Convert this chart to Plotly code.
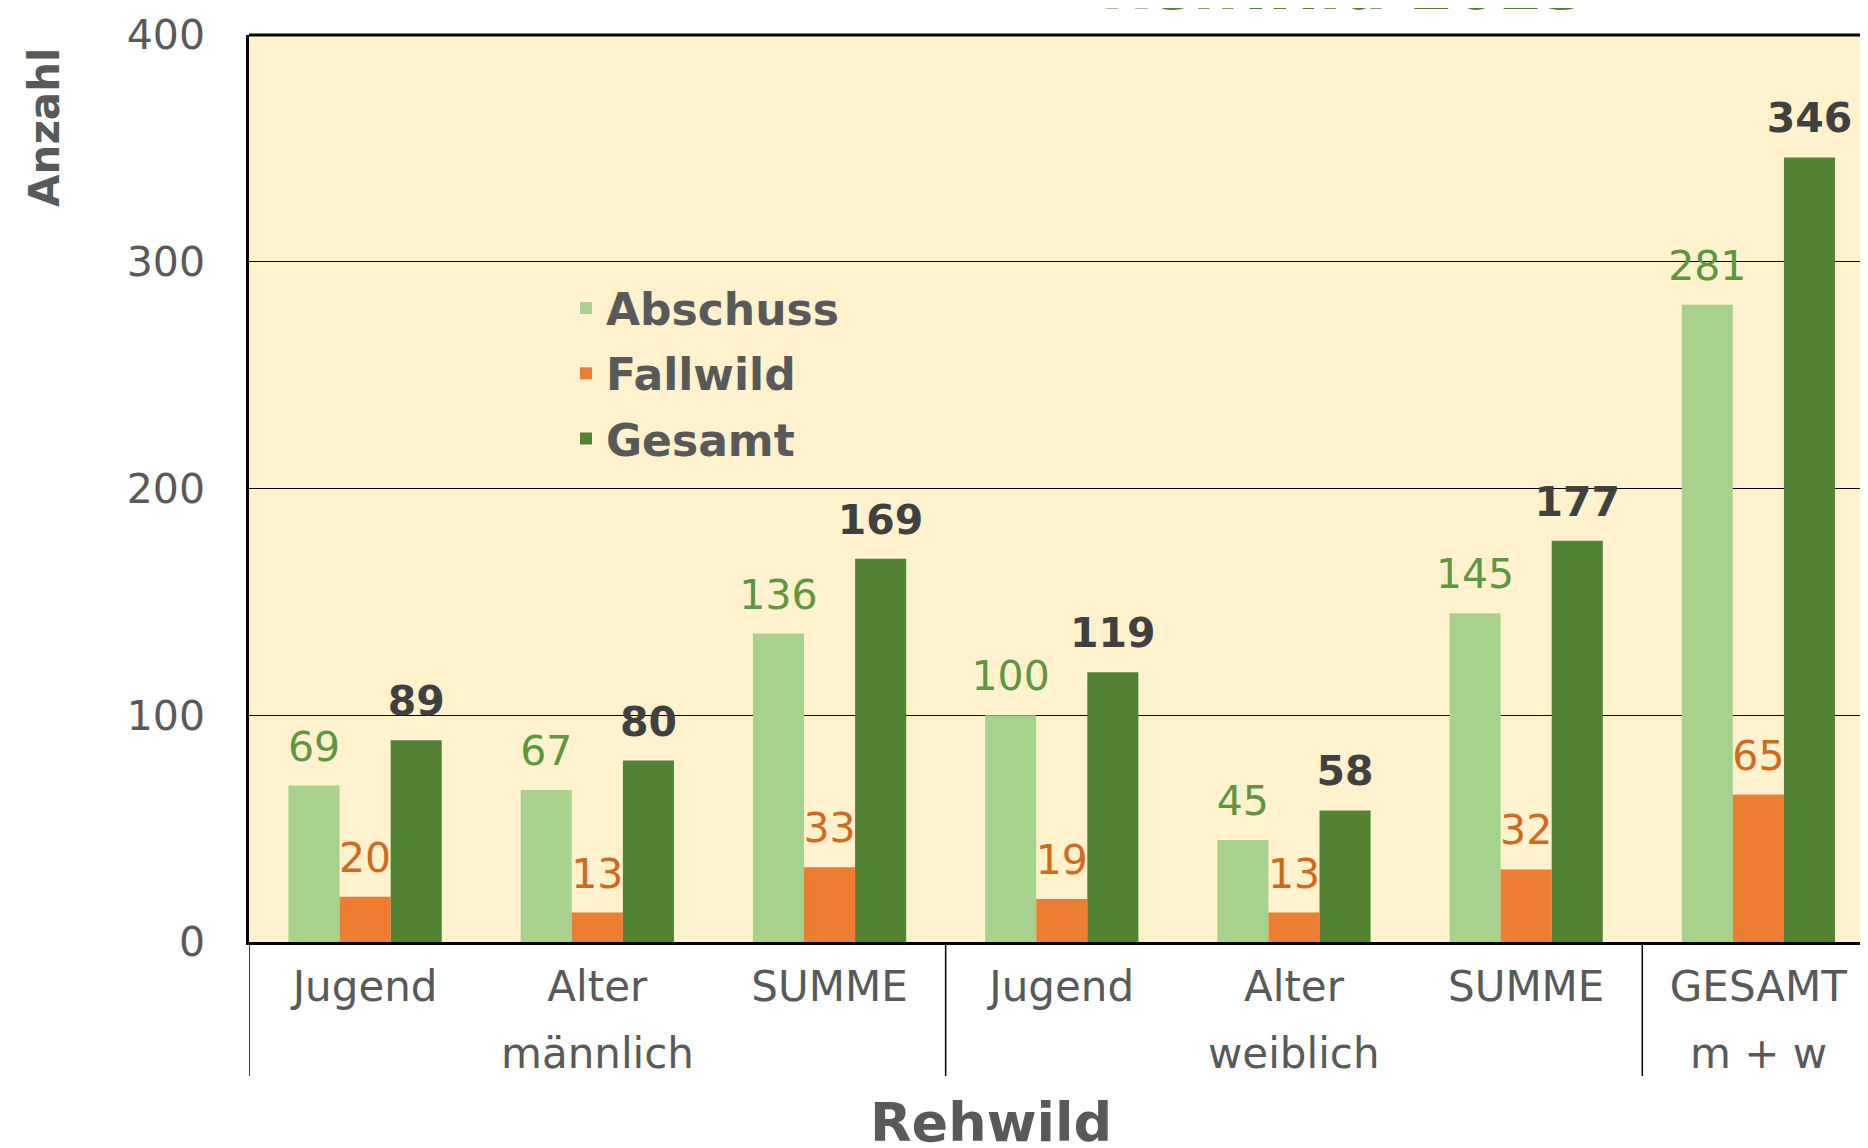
import plotly.graph_objects as go

groups = ["männlich", "männlich", "männlich", "weiblich", "weiblich", "weiblich", "m + w"]
subcats = ["Jugend", "Alter", "SUMME", "Jugend", "Alter", "SUMME", "GESAMT"]
abschuss = [69, 67, 136, 100, 45, 145, 281]
fallwild = [20, 13, 33, 19, 13, 32, 65]
gesamt = [89, 80, 169, 119, 58, 177, 346]
series_names = ["Abschuss", "Fallwild", "Gesamt"]
y_ticks = [0, 100, 200, 300, 400]
group_labels = ["männlich", "weiblich", "m + w"]
group_centers = ["Alter", "Alter", "GESAMT"]

bar_colors = ["#A9D18E", "#ED7D31", "#548235"]
label_colors = ["#5E9641", "#D2691E", "#404040"]
FONT = "DejaVu Sans"
GRAY = "#595959"

# page body has an 8px margin; figure coordinates = page coordinates - 8
OFF = 8
W, H = 1860, 1140
L, T = 241, 27
PLOT_BOTTOM = 934
B = H - PLOT_BOTTOM
R = 0
plot_h = PLOT_BOTTOM - T
plot_w = W - L - R


def px(page_x):
    return (page_x - OFF - L) / plot_w


def py(page_y):
    return (PLOT_BOTTOM - (page_y - OFF)) / plot_h


keys = [f"{s} ({g})" for s, g in zip(subcats, groups)]

fig = go.Figure()
for i, (name, vals) in enumerate(zip(series_names, [abschuss, fallwild, gesamt])):
    fig.add_trace(go.Bar(
        x=keys, y=vals, name=name, marker=dict(color=bar_colors[i], line=dict(width=0)),
        offsetgroup=str(i), legendgroup=name, hoverinfo="skip",
    ))
for i, (name, vals) in enumerate(zip(series_names, [abschuss, fallwild, gesamt])):
    fig.add_trace(go.Scatter(
        x=keys, y=vals, mode="markers+text", text=[str(v) for v in vals],
        textposition="top center", offsetgroup=str(i), showlegend=False,
        marker=dict(size=22, color="rgba(0,0,0,0)"),
        textfont=dict(family=FONT, size=41, color=label_colors[i],
                      weight="bold" if i == 2 else "normal"),
        cliponaxis=False, hoverinfo="skip",
    ))

fig.update_layout(
    width=W, height=H, autosize=False,
    margin=dict(l=L, r=R, t=T, b=B, pad=0),
    paper_bgcolor="white", plot_bgcolor="#FFF2CC",
    barmode="group", bargap=0.34, bargroupgap=0,
    scattermode="group", scattergap=0.34,
    font=dict(family=FONT, color=GRAY),
    legend=dict(
        x=px(566), y=py(273), xanchor="left", yanchor="top",
        bgcolor="rgba(0,0,0,0)", font=dict(family=FONT, size=44, color=GRAY, weight="bold"),
        tracegroupgap=5,
    ),
    xaxis=dict(
        type="category", range=[-0.5, 6.472], showline=True, linecolor="black",
        linewidth=3, showgrid=False, tickfont=dict(family=FONT, size=42, color=GRAY),
        tickvals=keys, ticktext=subcats, ticks="", ticklabelstandoff=6,
    ),
    yaxis=dict(
        range=[0, 400], tickvals=y_ticks, showgrid=True, gridcolor="black", gridwidth=1.4,
        showline=True, linecolor="black", linewidth=2.5, zeroline=False,
        tickfont=dict(family=FONT, size=41, color=GRAY), ticks="", ticklabelstandoff=33,
    ),
    showlegend=True,
)

# top frame line
fig.add_shape(type="line", xref="paper", yref="paper", x0=0, x1=1, y0=1, y1=1,
              line=dict(color="black", width=3))
# group dividers below the axis (at category boundaries)
for b in [-0.5, 2.5, 5.5]:
    fig.add_shape(type="line", xref="x", yref="paper", x0=b, x1=b, y0=0, y1=py(1076),
                  line=dict(color="black", width=1.5))
# group labels
for lab, c in zip(group_labels, group_centers):
    key = keys[[k for k in range(len(keys)) if groups[k] == lab and subcats[k] == c][0]]
    fig.add_annotation(text=lab, xref="x", yref="paper", x=key, y=py(1053),
                       showarrow=False, xanchor="center", yanchor="middle",
                       font=dict(family=FONT, size=42, color=GRAY))

fig.add_annotation(text="<b>Anzahl</b>", xref="paper", yref="paper",
                   x=px(44), y=py(127), textangle=-90,
                   showarrow=False, xanchor="center", yanchor="middle",
                   font=dict(family=FONT, size=42, color=GRAY))
fig.add_annotation(text="<b>Rehwild</b>", xref="paper", yref="paper",
                   x=px(991), y=py(1122),
                   showarrow=False, xanchor="center", yanchor="middle",
                   font=dict(family=FONT, size=54, color=GRAY))
fig.add_annotation(text="<b>Rehwild 2023</b>", xref="paper", yref="paper",
                   x=px(1343), y=1 + (T - 18) / plot_h,
                   showarrow=False, xanchor="center", yanchor="bottom",
                   font=dict(family=FONT, size=64, color="#548235"))

fig.write_html("out.html")
